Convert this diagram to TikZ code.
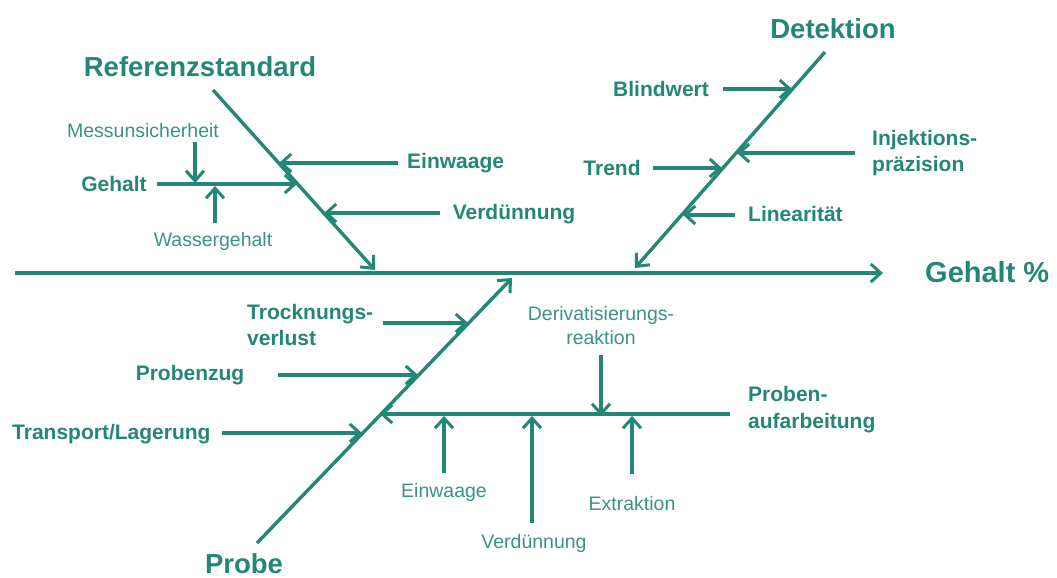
\documentclass[tikz,border=0pt]{standalone}
\usepackage{fontspec}
\setmainfont{Liberation Sans}
\usetikzlibrary{arrows.meta}
\definecolor{teal1}{RGB}{36,135,118}
\begin{document}
\begin{tikzpicture}[x=1pt,y=-1pt,
  arr/.style={line width=3.4pt, draw=teal1, -{Straight Barb[length=10pt,width=18pt,line width=3pt]}},
  head/.style={text=teal1, font=\fontsize{27.5}{30}\selectfont\bfseries, inner sep=0},
  lab/.style={text=teal1, font=\fontsize{21}{26}\selectfont\bfseries, inner sep=0, align=left},
  sub/.style={text=teal1!90, font=\fontsize{19.5}{24}\selectfont, inner sep=0, align=center}]
\useasboundingbox (0,0) rectangle (1057,578);
\fill[white] (0,0) rectangle (1057,578);

% spine
\coordinate (s0) at (15,273);
\coordinate (s1) at (883,273);
\draw[arr] (s0) -- (s1);
\node[head, font=\fontsize{29}{32}\selectfont\bfseries, anchor=west] (effect) at (925,272) {Gehalt \%};

% Referenzstandard bone
\node[head] (ref) at (200,67) {Referenzstandard};
\coordinate (r0) at (213,90);
\coordinate (r1) at (375,270);
\draw[arr] (r0) -- (r1);
\coordinate (e0) at (398,163); \coordinate (e1) at (279,163);
\draw[arr] (e0) -- (e1);
\node[lab, anchor=west] (einw1) at (407,163) {Einwaage};
\coordinate (v0) at (440,213); \coordinate (v1) at (324,213);
\draw[arr] (v0) -- (v1);
\node[lab] (verd1) at (514,214) {Verdünnung};
\node[lab] (geh) at (114,184) {Gehalt};
\coordinate (g0) at (157,184); \coordinate (g1) at (297,184);
\draw[arr] (g0) -- (g1);
\node[sub] (mess) at (143,131) {Messunsicherheit};
\coordinate (m0) at (195,142); \coordinate (m1) at (195,183);
\draw[arr] (m0) -- (m1);
\node[sub] (wass) at (213,241) {Wassergehalt};
\coordinate (w0) at (215,223); \coordinate (w1) at (215,186);
\draw[arr] (w0) -- (w1);

% Detektion bone
\node[head] (det) at (833,29) {Detektion};
\coordinate (d0) at (825,52);
\coordinate (d1) at (635,268);
\draw[arr] (d0) -- (d1);
\node[lab] (blind) at (661,89) {Blindwert};
\coordinate (b0) at (723,89); \coordinate (b1) at (792,89);
\draw[arr] (b0) -- (b1);
\node[lab, anchor=west] (inj) at (872,153) {Injektions-\\präzision};
\coordinate (i0) at (855,153); \coordinate (i1) at (737,153);
\draw[arr] (i0) -- (i1);
\node[lab] (trend) at (612,168) {Trend};
\coordinate (t0) at (653,168); \coordinate (t1) at (722,168);
\draw[arr] (t0) -- (t1);
\node[lab, anchor=west] (lin) at (748,214) {Linearität};
\coordinate (l0) at (735,215); \coordinate (l1) at (683,215);
\draw[arr] (l0) -- (l1);

% Probe bone
\node[head] (probe) at (244,564) {Probe};
\coordinate (p0) at (257,543);
\coordinate (p1) at (512,278);
\draw[arr] (p0) -- (p1);
\node[lab, anchor=west] (trock) at (247,325) {Trocknungs-\\verlust};
\coordinate (tr0) at (383,323); \coordinate (tr1) at (468,323);
\draw[arr] (tr0) -- (tr1);
\node[lab] (pzug) at (190,375) {Probenzug};
\coordinate (pz0) at (278,375); \coordinate (pz1) at (418,375);
\draw[arr] (pz0) -- (pz1);
\node[lab, anchor=west] (trans) at (12,434) {Transport/Lagerung};
\coordinate (ta0) at (222,433); \coordinate (ta1) at (362,433);
\draw[arr] (ta0) -- (ta1);

% Probenaufarbeitung
\node[lab, anchor=west, font=\fontsize{21}{27}\selectfont\bfseries] (pauf) at (748,410) {Proben-\\aufarbeitung};
\coordinate (pa0) at (730,414); \coordinate (pa1) at (380,414);
\draw[arr] (pa0) -- (pa1);
\node[sub] (deriv) at (601,326) {Derivatisierungs-\\reaktion};
\coordinate (dr0) at (601,355); \coordinate (dr1) at (601,416);
\draw[arr] (dr0) -- (dr1);
\node[sub] (einw2) at (444,492) {Einwaage};
\coordinate (ew0) at (444,473); \coordinate (ew1) at (444,416);
\draw[arr] (ew0) -- (ew1);
\node[sub] (verd2) at (534,543) {Verdünnung};
\coordinate (vd0) at (532,523); \coordinate (vd1) at (532,416);
\draw[arr] (vd0) -- (vd1);
\node[sub] (extr) at (632,504) {Extraktion};
\coordinate (ex0) at (632,474); \coordinate (ex1) at (632,416);
\draw[arr] (ex0) -- (ex1);
\end{tikzpicture}
\end{document}
